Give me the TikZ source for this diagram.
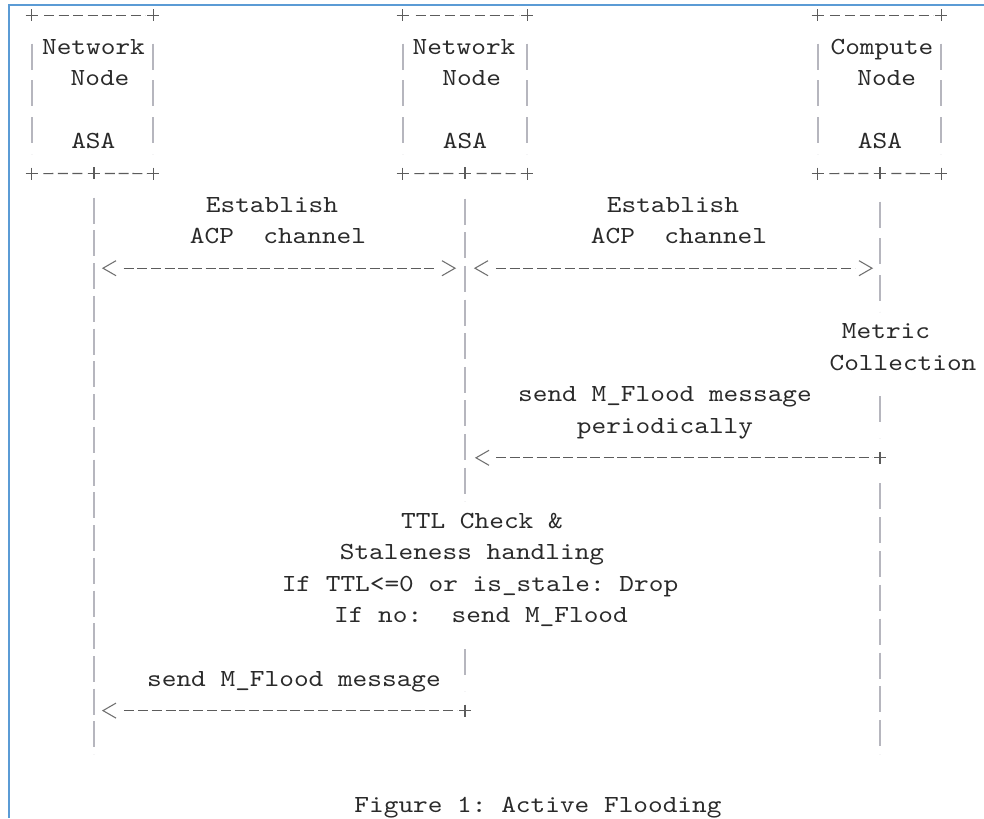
\documentclass[tikz,border=0pt]{standalone}
\usepackage{fontspec}
\setmonofont{lmmono10-regular.otf}[FakeStretch=1.14]
\usetikzlibrary{calc,decorations}
\definecolor{txtc}{HTML}{2A2A2A}
\definecolor{barc}{HTML}{B6B6BE}
\definecolor{dshc}{HTML}{5C5C5C}
\definecolor{chevc}{HTML}{707070}
\definecolor{framec}{HTML}{5B9BD5}
\begin{document}
\begin{tikzpicture}[x=0.75pt,y=-0.75pt,
  lbl/.style={font=\ttfamily\fontsize{18.4}{22}\selectfont, text=txtc, inner sep=0pt, anchor=base},
  hdash/.style={draw=dshc, line width=0.9pt, dash pattern=on 7.5pt off 2.55pt, dash expand off},
  vbar/.style={draw=barc, line width=1.2pt, dash pattern=on 19.5pt off 4.2pt, dash expand off},
  chevron/.style={draw=chevc, line width=0.8pt, line join=miter},
  plusmark/.style={draw=dshc, line width=0.8pt},
  framel/.style={draw=framec, line width=1.6pt},
  boxshape/.style={rectangle, inner sep=0pt, minimum height=118.5pt},
  pics/chevL/.style={code={\draw[chevron] (13,-7.5) -- (0,0) -- (13,7.5);}},
  pics/chevR/.style={code={\draw[chevron] (-13,-7.5) -- (0,0) -- (-13,7.5);}},
  pics/plus/.style={code={\draw[plusmark] (-6,0) -- (6,0) (0,-6) -- (0,6);}}
]
\useasboundingbox (0,0) rectangle (984,818);
\fill[white] (0,0) rectangle (984,818);
\draw[framel] (9,818) -- (9,5) -- (984,5);

% boxes
\node[boxshape, minimum width=90.75pt] (b1) at (92.5,94.4) {};
\node[boxshape, minimum width=93pt]    (b2) at (465,94.4) {};
\node[boxshape, minimum width=92.25pt] (b3) at (879.5,94.4) {};

% lifeline anchors
\coordinate (L) at (94,173.4);
\coordinate (M) at (465,173.4);
\coordinate (R) at (880,173.4);

% box borders
\foreach \b/\l in {b1/L, b2/M, b3/R}{
  \draw[hdash] ($(\b.north west)+(8,0)$) -- ($(\b.north east)+(-8,0)$);
  \draw[hdash] ($(\b.south west)+(7,0)$) -- ($(\l)+(-7,0)$);
  \draw[hdash] ($(\l)+(7,0)$) -- ($(\b.south east)+(-7,0)$);
  \draw[vbar] ($(\b.north west)+(0,17.6)$) -- ($(\b.south west)+(0,-19.6)$);
  \draw[vbar] ($(\b.north east)+(0,17.6)$) -- ($(\b.south east)+(0,-19.6)$);
  \pic at (\b.north west) {plus};
  \pic at (\b.north east) {plus};
  \pic at (\b.south west) {plus};
  \pic at (\b.south east) {plus};
  \pic at (\l) {plus};
}

% box texts
\node[lbl] (t1a) at (93.5,54) {Network};
\node[lbl] (t1b) at (100,85.6) {Node};
\node[lbl] (t1c) at (93.3,148.8) {ASA};
\node[lbl] (t2a) at (464,54) {Network};
\node[lbl] (t2b) at (471.7,85.6) {Node};
\node[lbl] (t2c) at (465,148.8) {ASA};
\node[lbl] (t3a) at (882,54) {Compute};
\node[lbl] (t3b) at (886.7,85.6) {Node};
\node[lbl] (t3c) at (880,148.8) {ASA};

% lifelines
\draw[vbar] ($(L)+(0,17.6)$) -- ($(L)+(0,580.8)$);
\draw[vbar] ($(M)+(0,17.6)$) -- ($(M)+(0,328)$);
\draw[vbar] ($(M)+(0,460)$) -- ($(M)+(0,517.6)$);
\draw[vbar] ($(M)+(0,554.8)$) -- ($(M)+(0,580.8)$);
\draw[vbar] ($(R)+(0,17.6)$) -- ($(R)+(0,138.4)$);
\draw[vbar] ($(R)+(0,207.2)$) -- ($(R)+(0,264.8)$);
\draw[vbar] ($(R)+(0,302)$) -- ($(R)+(0,580.8)$);

% message rows
\coordinate (L8) at (94,268.2);
\coordinate (M8) at (465,268.2);
\coordinate (R8) at (880,268.2);
\coordinate (M14) at (465,457.8);
\coordinate (R14) at (880,457.8);
\coordinate (L22) at (94,710.6);
\coordinate (M22) at (465,710.6);

% Establish ACP channel (left)
\node[lbl] (e1a) at (272,212) {Establish};
\node[lbl] (e1b) at (278,243.6) {ACP~~channel};
\pic at ($(L8)+(9,0)$) {chevL};
\draw[hdash] ($(L8)+(26,0)$) -- ($(M8)+(-27,0)$);
\pic at ($(M8)+(-10,0)$) {chevR};

% Establish ACP channel (right)
\node[lbl] (e2a) at (673,212) {Establish};
\node[lbl] (e2b) at (679,243.6) {ACP~~channel};
\pic at ($(M8)+(10,0)$) {chevL};
\draw[hdash] ($(M8)+(27,0)$) -- ($(R8)+(-25,0)$);
\pic at ($(R8)+(-8,0)$) {chevR};

% Metric collection
\node[lbl] (mc1) at (886,338.4) {Metric};
\node[lbl] (mc2) at (903,370) {Collection};

% periodic flood
\node[lbl] (pf1) at (665,401.6) {send M\_Flood message};
\node[lbl] (pf2) at (665,433.2) {periodically};
\pic at ($(M14)+(11,0)$) {chevL};
\draw[hdash] ($(M14)+(28,0)$) -- ($(R14)+(-8,0)$);
\pic at (R14) {plus};

% TTL check
\node[lbl] (tc1) at (482,528) {TTL Check \&};
\node[lbl] (tc2) at (472,559.6) {Staleness handling};
\node[lbl] (tc3) at (480,591.2) {If TTL<=0 or is\_stale: Drop};
\node[lbl] (tc4) at (481,622.8) {If no:~~send M\_Flood};

% forward flood
\node[lbl] (ff1) at (294,686) {send M\_Flood message};
\pic at ($(L22)+(9,0)$) {chevL};
\draw[hdash] ($(L22)+(26,0)$) -- ($(M22)+(-8,0)$);
\pic at (M22) {plus};

% caption
\node[lbl] (cap) at (538,812.4) {Figure 1: Active Flooding};
\end{tikzpicture}
\end{document}
